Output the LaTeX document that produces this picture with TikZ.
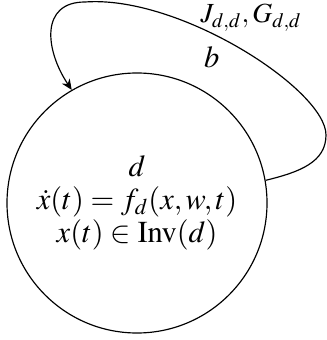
\documentclass[tikz,border=0pt]{standalone}
\usepackage{mathptmx}
\usetikzlibrary{arrows.meta}

\begin{document}
\begin{tikzpicture}[
    x=0.015cm, y=-0.015cm,
    font=\fontsize{13}{14.2}\selectfont,
    mode/.style={circle, draw=black, line width=0.5pt,
                 minimum size=3.9cm, inner sep=0pt, align=center},
    arrow/.style={-{Stealth[length=1.6mm, width=1.4mm]}, line width=0.5pt}
  ]
    \useasboundingbox (0,0) rectangle (327,340);

    % Mode d
    \node[mode] (d) at (137,203) {$d$\\$\dot{x}(t) = f_d(x,w,t)$\\$x(t) \in \mathrm{Inv}(d)$};

    % Self loop
    \draw[arrow] (d.10) .. controls (300,172) and (326,162) .. (326,135)
        .. controls (326,90) and (180,-5) .. (85,2)
        node[pos=0.5, xshift=0.15cm, yshift=0.47cm, font=\fontsize{11.8}{13}\selectfont] {$J_{d,d}, G_{d,d}$}
        node[pos=0.5, xshift=-0.44cm, yshift=-0.12cm] {$b$}
        .. controls (40,2) and (45,50) .. (d.120);

  \end{tikzpicture}
\end{document}
